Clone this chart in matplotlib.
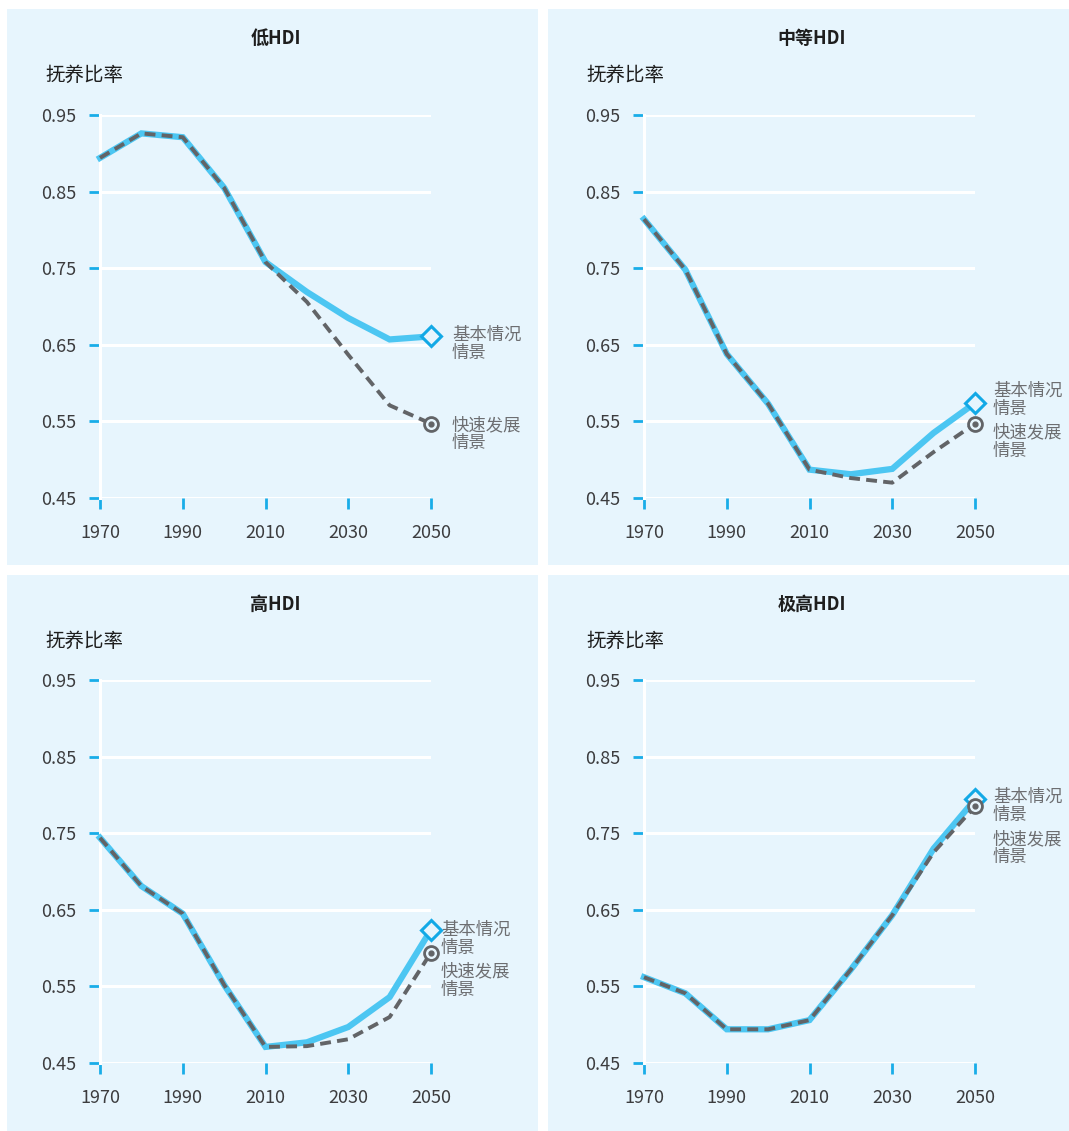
import matplotlib.pyplot as plt
from matplotlib.patches import Rectangle

# --------------------------------------------------
# Data (dependency ratio)
# --------------------------------------------------
years = [1970, 1980, 1990, 2000, 2010, 2020, 2030, 2040, 2050]
titles = ["低HDI", "中等HDI", "高HDI", "极高HDI"]

base_low = [0.894, 0.926, 0.921, 0.855, 0.758, 0.719, 0.685, 0.657, 0.661]
fast_low = [0.894, 0.926, 0.921, 0.855, 0.758, 0.706, 0.637, 0.571, 0.547]

base_mid = [0.814, 0.748, 0.638, 0.573, 0.487, 0.481, 0.488, 0.535, 0.574]
fast_mid = [0.814, 0.748, 0.638, 0.573, 0.487, 0.476, 0.470, 0.510, 0.547]

base_high = [0.744, 0.681, 0.645, 0.552, 0.471, 0.477, 0.497, 0.536, 0.624]
fast_high = [0.744, 0.681, 0.645, 0.552, 0.471, 0.472, 0.481, 0.510, 0.594]

base_vhigh = [0.562, 0.541, 0.494, 0.494, 0.506, 0.572, 0.643, 0.730, 0.794]
fast_vhigh = [0.562, 0.541, 0.494, 0.494, 0.506, 0.572, 0.643, 0.725, 0.785]

base_series = [base_low, base_mid, base_high, base_vhigh]
fast_series = [fast_low, fast_mid, fast_high, fast_vhigh]

y_ticks = [0.45, 0.55, 0.65, 0.75, 0.85, 0.95]
x_ticks = [1970, 1990, 2010, 2030, 2050]

base_label = "基本情况\n情景"
fast_label = "快速发展\n情景"
y_title = "抚养比率"

# --------------------------------------------------
# Style
# --------------------------------------------------
BG = "#e7f5fd"
BLUE = "#4cc6f2"
TICK_BLUE = "#19ade8"
GRAY = "#626467"
TEXT = "#3c3c3e"
NOTE = "#6d6e71"
plt.rcParams["font.family"] = ["Noto Sans CJK SC", "DejaVu Sans"]

W, H = 1069, 1131
fig = plt.figure(figsize=(W / 100, H / 100), dpi=100)

# panel boxes in pixels: (left, top, right, bottom)
panels = [(7, 9, 538, 565), (548, 9, 1069, 565),
          (7, 575, 538, 1131), (548, 575, 1069, 1131)]
# axes in pixels: (left, top, right, bottom)
axes_px = [(100, 115, 431, 498), (644, 115, 975, 498),
           (100, 680, 431, 1063), (644, 680, 975, 1063)]
# annotation x offsets (px) and label top y (data units)
label_dx = [21, 18, 10, 18]
label_y = [(0.675, 0.557), (0.602, 0.547), (0.636, 0.581), (0.809, 0.754)]

for i in range(4):
    l, t, r, b = panels[i]
    fig.patches.append(Rectangle((l / W, 1 - b / H), (r - l) / W, (b - t) / H,
                                 transform=fig.transFigure, facecolor=BG,
                                 edgecolor="none", zorder=-5))
    fig.text((l + r) / 2 / W + 3 / W, 1 - (t + 29) / H, titles[i],
             ha="center", va="center", fontsize=13, fontweight="bold",
             color="#1e1e1e")
    fig.text((l + 38) / W, 1 - (t + 66) / H, y_title, ha="left", va="center",
             fontsize=14, color="#1e1e1e")

    al, at, ar, ab = axes_px[i]
    ax = fig.add_axes([al / W, 1 - ab / H, (ar - al) / W, (ab - at) / H])
    ax.set_facecolor("none")
    ax.set_xlim(1970, 2050)
    ax.set_ylim(0.45, 0.95)
    for s in ["top", "right", "bottom"]:
        ax.spines[s].set_visible(False)
    ax.spines["left"].set_color("white")
    ax.spines["left"].set_linewidth(2.2)
    ax.set_xticks(x_ticks)
    ax.set_yticks(y_ticks)
    ax.set_yticklabels([f"{v:.2f}" for v in y_ticks])
    ax.tick_params(axis="both", colors=TICK_BLUE, labelcolor=TEXT,
                   labelsize=13, length=8, width=2, direction="out")
    ax.tick_params(axis="y", pad=9)
    ax.tick_params(axis="x", pad=11)
    ax.grid(axis="y", color="white", linewidth=2.2)
    ax.set_axisbelow(True)

    ax.plot(years, base_series[i], color=BLUE, linewidth=4.5,
            solid_joinstyle="miter", clip_on=False, zorder=3)
    ax.plot(years, fast_series[i], color=GRAY, linewidth=2.8,
            dashes=(2.8, 1.6), clip_on=False, zorder=4)
    ax.plot(years[-1], base_series[i][-1], marker="D", markersize=10,
            markerfacecolor=BG, markeredgecolor="#12a9e6", markeredgewidth=2.2,
            clip_on=False, zorder=5)
    ax.plot(years[-1], fast_series[i][-1], marker="o", markersize=10,
            markerfacecolor=BG, markeredgecolor=GRAY, markeredgewidth=2,
            clip_on=False, zorder=6)
    ax.plot(years[-1], fast_series[i][-1], marker="o", markersize=3.5,
            color=GRAY, clip_on=False, zorder=7)

    x_lab = 2050 + label_dx[i] / (ar - al) * 80
    ax.text(x_lab, label_y[i][0], base_label, ha="left", va="top",
            fontsize=12.5, color=NOTE, linespacing=1.0, clip_on=False)
    ax.text(x_lab, label_y[i][1], fast_label, ha="left", va="top",
            fontsize=12.5, color=NOTE, linespacing=1.0, clip_on=False)

plt.savefig("out.png", dpi=100)
